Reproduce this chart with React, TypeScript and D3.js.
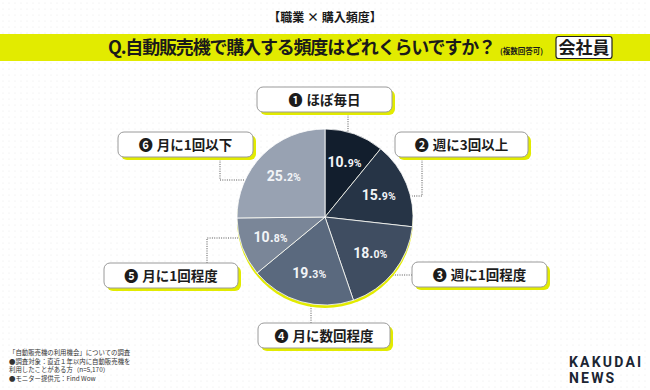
import React from "react";
import * as d3 from "d3";

const categories = ["ほぼ毎日", "週に3回以上", "週に1回程度", "月に数回程度", "月に1回程度", "月に1回以下"];
const values = [10.9, 15.9, 18.0, 19.3, 10.8, 25.2];
const markers = ["❶", "❷", "❸", "❹", "❺", "❻"];
const footerLines = [
  "「自動販売機の利用機会」についての調査",
  "●調査対象：直近１年以内に自動販売機を",
  "利用したことがある方（n=5,170）",
  "●モニター提供元：Find Wow",
];

const COLORS = ["#121e2d", "#263446", "#3f4d61", "#5a697e", "#7a8698", "#98a2b2"];
const YELLOW = "#e2eb00";
const JP = "'Noto Sans CJK JP', 'Noto Sans', sans-serif";
const LAT = "Roboto, 'Noto Sans', sans-serif";

const W = 650;
const H = 390;
const CX = 325;
const CY = 217;
const R = 88;

// label box layout
const BOXES = [
  { x: 257, y: 87, w: 135, h: 25, path: [[348, 112], [348, 132]] },
  { x: 395, y: 132, w: 133, h: 25, path: [[422, 157], [422, 196], [412, 196]] },
  { x: 412, y: 262, w: 135, h: 25, path: [[412, 275], [383, 275]] },
  { x: 258, y: 323, w: 132, h: 25, path: [[311, 323], [311, 297]] },
  { x: 104, y: 263, w: 134, h: 25, path: [[207, 263], [207, 238], [245, 238]] },
  { x: 118, y: 132, w: 135, h: 25, path: [[220, 157], [220, 180], [252, 180]] },
];

export default function App() {
  const data = categories.map((c, i) => ({ c, v: values[i], i }));
  const pie = d3.pie<any>().sort(null).value((d: any) => d.v);
  const arcs = pie(data);
  const arc = d3.arc<any>().innerRadius(0).outerRadius(R);
  const labelArc = d3.arc<any>().innerRadius(58).outerRadius(58);
  const line = d3.line();

  return (
    <svg width={W} height={H} style={{ position: "absolute", left: 0, top: 0, display: "block" }}>
      <defs>
        <pattern id="dots" width="6" height="6" patternUnits="userSpaceOnUse">
          <circle cx="3" cy="3" r="0.6" fill="#e6e6e6" />
        </pattern>
      </defs>
      <rect width={W} height={H} fill="#ffffff" />
      <rect width={W} height={H} fill="url(#dots)" />

      {/* header */}
      <text x={325} y={22} textAnchor="middle" fontFamily={JP} fontWeight={700} fontSize={12} fill="#1a1a1a">
        【職業 × 購入頻度】
      </text>
      <rect x={0} y={34} width={W} height={27} fill={YELLOW} />
      <text x={108} y={54} fontFamily={JP} fontWeight={700} fontSize={18} fill="#1a1a1a" textLength={388} lengthAdjust="spacing">
        Q.自動販売機で購入する頻度はどれくらいですか？
      </text>
      <text x={500} y={54} fontFamily={JP} fontWeight={700} fontSize={7.5} fill="#1a1a1a">
        (複数回答可)
      </text>
      <rect x={556} y={36.5} width={56} height={22} rx={2.5} fill="#ffffff" stroke="#222" strokeWidth={1.2} />
      <text x={584} y={54} textAnchor="middle" fontFamily={JP} fontWeight={700} fontSize={17} fill="#1a1a1a">
        会社員
      </text>

      {/* connectors */}
      {BOXES.map((b, i) => (
        <path key={"c" + i} d={line(b.path as any) || ""} fill="none" stroke="#555" strokeWidth={1} strokeDasharray="1 1.3" />
      ))}

      {/* pie */}
      <g transform={`translate(${CX},${CY})`}>
        <circle cx={0} cy={3} r={R} fill={YELLOW} />
        {arcs.map((a: any, i: number) => (
          <path key={i} d={arc(a) || ""} fill={COLORS[i]} stroke="#ffffff" strokeWidth={0.8} />
        ))}
        {arcs.map((a: any, i: number) => {
          const [x, y] = labelArc.centroid(a);
          const s = a.data.v.toFixed(1);
          const [ip, dp] = s.split(".");
          return (
            <text key={"t" + i} x={x} y={y + 5} textAnchor="middle" fontFamily={LAT} fontWeight={700} fill="#f2f4f7">
              <tspan fontSize={14}>{ip}.</tspan>
              <tspan fontSize={10.5}>{dp}%</tspan>
            </text>
          );
        })}
      </g>

      {/* label boxes */}
      {BOXES.map((b, i) => (
        <g key={"b" + i}>
          <rect x={b.x + 3} y={b.y + 3} width={b.w} height={b.h} rx={6} fill={YELLOW} />
          <rect x={b.x} y={b.y} width={b.w} height={b.h} rx={6} fill="#ffffff" stroke="#9a9a9a" strokeWidth={1} />
          <text x={b.x + b.w / 2} y={b.y + b.h / 2 + 5} textAnchor="middle" fontFamily={JP} fontWeight={700} fontSize={13.5} fill="#1c1c1c">
            <tspan fontSize={14}>{markers[i]}</tspan>
            <tspan dx={4}>{categories[i]}</tspan>
          </text>
        </g>
      ))}

      {/* footer */}
      {footerLines.map((t, i) => (
        <text key={"f" + i} x={9} y={355 + i * 8.5} fontFamily={JP} fontSize={6.4} fill="#333">
          {t}
        </text>
      ))}
      <text x={569} y={367} fontFamily={LAT} fontWeight={700} fontSize={14} letterSpacing={2.2} fill="#1b2533">
        KAKUDAI
      </text>
      <text x={569} y={383} fontFamily={LAT} fontWeight={700} fontSize={14} letterSpacing={2.2} fill="#1b2533">
        NEWS
      </text>
    </svg>
  );
}
